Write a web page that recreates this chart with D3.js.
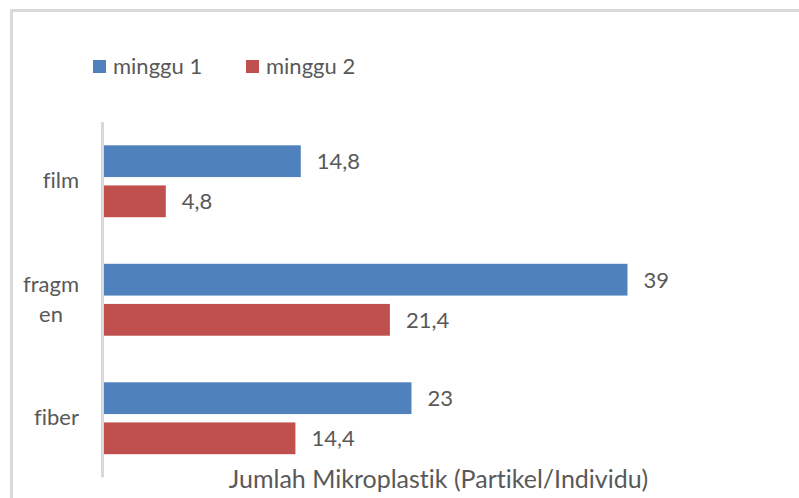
<!DOCTYPE html>
<html>
<head>
<meta charset="utf-8">
<script src="https://cdn.jsdelivr.net/npm/d3@7"></script>
<style>
  html, body { margin: 0; padding: 0; background: #fff; }
  svg text { font-family: Lato, "Open Sans", sans-serif; fill: #595959; font-variant-ligatures: none; font-feature-settings: "liga" 0; }
</style>
</head>
<body>
<svg id="chart" width="799" height="498"></svg>
<script>
// categories top to bottom, labels may wrap
var categories = ["film", "fragmen", "fiber"];
var categoryLines = [["film"], ["fragm", "en"], ["fiber"]];
var seriesNames = ["minggu 1", "minggu 2"];
var seriesColors = ["#4F81BD", "#C0504D"];
var week1 = [14.8, 39, 23];
var week2 = [4.8, 21.4, 14.4];
var axisTitle = "Jumlah Mikroplastik (Partikel/Individu)";

var svg = d3.select("#chart");
var fontSize = 22;

// chart frame
svg.append("rect")
  .attr("x", 11.5).attr("y", 10.5)
  .attr("width", 800).attr("height", 500)
  .attr("fill", "none")
  .attr("stroke", "#D9D9D9")
  .attr("stroke-width", 3);

var x = d3.scaleLinear().domain([0, 45]).range([101, 101 + 45 * 13.5]);
var y0 = d3.scaleBand().domain(categories).range([122, 477.5]);
var y1 = d3.scaleBand().domain(seriesNames)
  .range([23.3, y0.bandwidth() - 23.3])
  .paddingInner(0.208);

var rows = categories.map(function (c, i) {
  return { cat: c, lines: categoryLines[i], values: [week1[i], week2[i]] };
});

var groups = svg.append("g").selectAll("g")
  .data(rows)
  .join("g")
  .attr("transform", function (d) { return "translate(0," + y0(d.cat) + ")"; });

groups.selectAll("rect")
  .data(function (d) {
    return d.values.map(function (v, j) { return { name: seriesNames[j], value: v, color: seriesColors[j] }; });
  })
  .join("rect")
  .attr("x", x(0))
  .attr("y", function (d) { return y1(d.name); })
  .attr("width", function (d) { return x(d.value) - x(0); })
  .attr("height", y1.bandwidth())
  .attr("fill", function (d) { return d.color; });

groups.selectAll("text.val")
  .data(function (d) {
    return d.values.map(function (v, j) { return { name: seriesNames[j], value: v }; });
  })
  .join("text")
  .attr("class", "val")
  .attr("x", function (d) { return x(d.value) + 16; })
  .attr("y", function (d) { return y1(d.name) + y1.bandwidth() / 2 + 8; })
  .attr("font-size", fontSize)
  .text(function (d) { return String(d.value).replace(".", ","); });

// category labels: lines centred on each other, block right-aligned at x=79
groups.each(function (d) {
  var g = d3.select(this);
  var cy = y0.bandwidth() / 2 + 7;
  var n = d.lines.length;
  var texts = d.lines.map(function (line, k) {
    return g.append("text")
      .attr("font-size", fontSize)
      .attr("text-anchor", "middle")
      .attr("y", cy + (k - (n - 1) / 2) * 30)
      .text(line);
  });
  var maxW = d3.max(texts, function (t) { return t.node().getComputedTextLength(); });
  texts.forEach(function (t) { t.attr("x", 79 - maxW / 2); });
});

// vertical category axis line
svg.append("line")
  .attr("x1", 102.5).attr("x2", 102.5)
  .attr("y1", y0.range()[0]).attr("y2", y0.range()[1])
  .attr("stroke", "#D9D9D9")
  .attr("stroke-width", 3);

// axis title
svg.append("text")
  .attr("x", 438.5).attr("y", 488)
  .attr("text-anchor", "middle")
  .attr("font-size", 25)
  .text(axisTitle);

// legend
var legendX = [93, 246];
var legend = svg.append("g").selectAll("g")
  .data(seriesNames)
  .join("g")
  .attr("transform", function (d, i) { return "translate(" + legendX[i] + ",60)"; });
legend.append("rect")
  .attr("width", 13).attr("height", 13)
  .attr("fill", function (d, i) { return seriesColors[i]; });
legend.append("text")
  .attr("x", 20).attr("y", 14)
  .attr("font-size", fontSize)
  .text(function (d) { return d; });
</script>
</body>
</html>
